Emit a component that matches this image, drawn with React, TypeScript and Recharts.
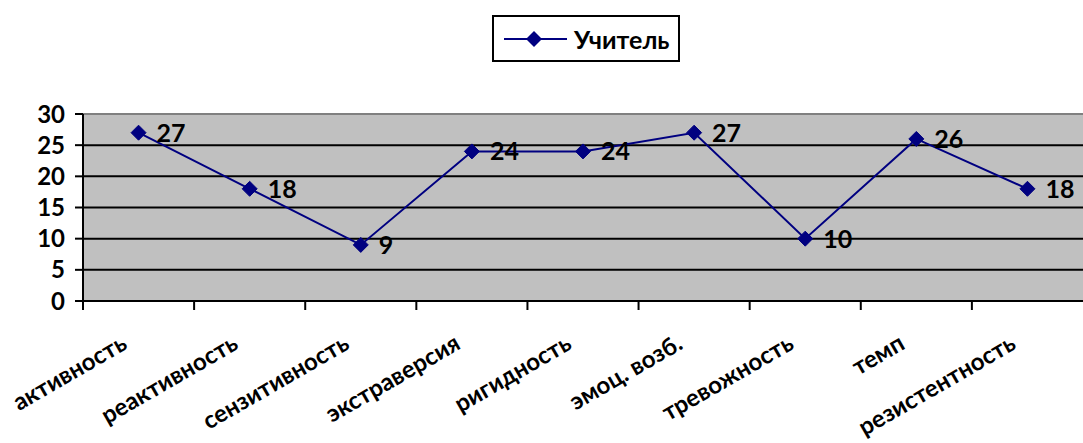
import React from 'react';
import {
  LineChart,
  Line,
  XAxis,
  YAxis,
  CartesianGrid,
  Legend,
  LabelList,
  ReferenceLine,
} from 'recharts';

const traits = [
  'активность',
  'реактивность',
  'сензитивность',
  'экстраверсия',
  'ригидность',
  'эмоц. возб.',
  'тревожность',
  'темп',
  'резистентность',
];
const teacherScores = [27, 18, 9, 24, 24, 27, 10, 26, 18];
const yTicks = [0, 5, 10, 15, 20, 25, 30];
const seriesName = 'Учитель';

const data = traits.map((trait, i) => ({ trait, teacher: teacherScores[i] }));

const NAVY = '#000080';
const FONT = 'Lato, "Liberation Sans", sans-serif';

function Diamond(props: any) {
  const { cx, cy } = props;
  if (cx == null || cy == null) return null;
  const r = 7.5;
  return (
    <path
      d={`M${cx},${cy - r} L${cx + r},${cy} L${cx},${cy + r} L${cx - r},${cy} Z`}
      fill={NAVY}
      stroke={NAVY}
    />
  );
}

// category labels sit between Excel-style boundary ticks
function CategoryTick(props: any) {
  const { x, y, payload } = props;
  const half = payload?.offset || 55.5;
  const tx = x - 10;
  const ty = y + 47;
  return (
    <g>
      <line x1={x - half} x2={x - half} y1={y} y2={y + 9} stroke="#000" strokeWidth={2} />
      <text
        x={tx}
        y={ty}
        textAnchor="end"
        transform={`rotate(-30 ${tx} ${ty})`}
        fontSize={24}
        fontWeight="bold"
        fill="#000"
        fontFamily={FONT}
      >
        {payload.value}
      </text>
    </g>
  );
}

function LegendBox(props: any) {
  const item = props.payload?.[0];
  return (
    <div
      style={{
        border: '2px solid #000',
        height: 43,
        width: 184,
        display: 'flex',
        alignItems: 'center',
        boxSizing: 'content-box',
        background: '#fff',
      }}
    >
      <svg width={80} height={20} style={{ marginLeft: 8 }}>
        <line x1={2} x2={65} y1={10} y2={10} stroke={NAVY} strokeWidth={2} />
        <path d="M32,2 L40,10 L32,18 L24,10 Z" fill={NAVY} />
      </svg>
      <span
        style={{ fontFamily: FONT, fontWeight: 'bold', fontSize: 25, color: '#000', marginLeft: -8 }}
      >
        {item?.value ?? seriesName}
      </span>
    </div>
  );
}

export default function App() {
  return (
    <div style={{ position: 'absolute', left: 0, top: 0, fontFamily: FONT }}>
      <style>{'body{margin:0}'}</style>
      <LineChart
        width={1083}
        height={443}
        data={data}
        margin={{ top: 114, right: 0, bottom: 0, left: 0 }}
      >
        <CartesianGrid
          vertical={false}
          fill="#C0C0C0"
          fillOpacity={1}
          stroke="#000"
          strokeWidth={2}
        />
        <ReferenceLine y={30} stroke="#808080" strokeWidth={2} />
        <XAxis
          dataKey="trait"
          scale="band"
          height={142}
          interval={0}
          tickSize={0}
          tickMargin={0}
          axisLine={{ stroke: '#000', strokeWidth: 2 }}
          tick={<CategoryTick />}
        />
        <YAxis
          width={83}
          domain={[0, 30]}
          ticks={yTicks}
          interval={0}
          tickSize={8}
          tickMargin={10}
          axisLine={{ stroke: '#000', strokeWidth: 2 }}
          tickLine={{ stroke: '#000', strokeWidth: 2 }}
          tick={{ fill: '#000', fontSize: 24, fontWeight: 'bold', fontFamily: FONT }}
        />
        <Legend
          layout="horizontal"
          verticalAlign="middle"
          align="center"
          wrapperStyle={{ top: 15, left: 492, width: 188 }}
          content={<LegendBox />}
        />
        <Line
          name={seriesName}
          dataKey="teacher"
          stroke={NAVY}
          strokeWidth={2}
          dot={<Diamond />}
          activeDot={false}
          isAnimationActive={false}
        >
          <LabelList
            dataKey="teacher"
            position="right"
            offset={18}
            fill="#000"
            fontSize={25}
            fontWeight="bold"
            fontFamily={FONT}
          />
        </Line>
      </LineChart>
    </div>
  );
}
